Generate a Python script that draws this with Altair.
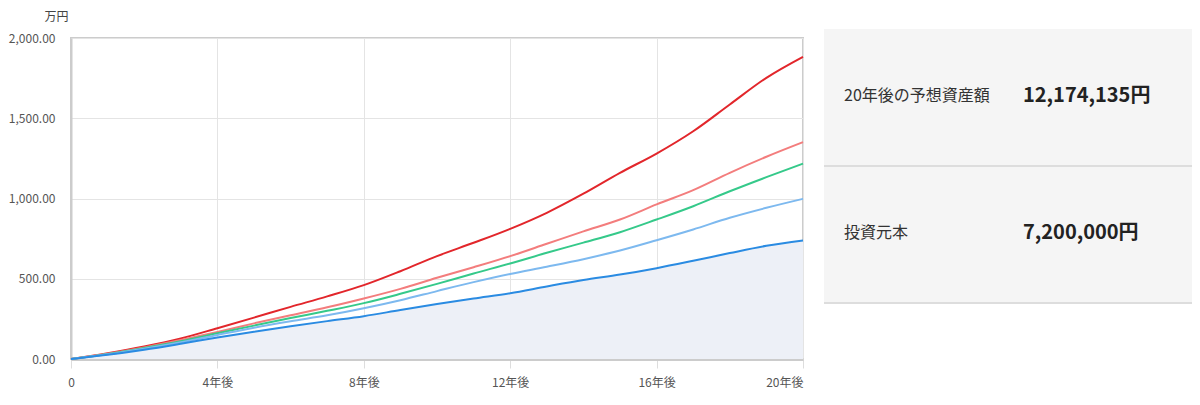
import altair as alt
import pandas as pd

# ---- data (万円) ----
years = list(range(21))
series_names = ["楽観", "やや楽観", "期待", "やや悲観", "悲観"]
series_colors = ["#e2262b", "#f37d7d", "#35c98a", "#7db9ef", "#2a8be2"]

red   = [0, 36, 78, 128, 192, 258, 325, 390, 460, 547, 641, 724, 811, 911, 1030, 1160, 1280, 1419, 1586, 1752, 1883]
lred  = [0, 33, 72, 118, 168, 222, 273, 322, 377, 437, 506, 572, 641, 718, 795, 869, 963, 1052, 1160, 1260, 1351]
green = [0, 31, 68, 110, 160, 208, 255, 300, 348, 406, 468, 533, 595, 662, 725, 790, 869, 952, 1045, 1133, 1217]
lblue = [0, 29, 64, 104, 150, 195, 235, 272, 316, 366, 423, 479, 530, 575, 622, 676, 740, 807, 880, 942, 998]
dblue = [0, 26, 58, 95, 134, 170, 204, 236, 267, 305, 342, 377, 410, 452, 492, 526, 566, 612, 660, 705, 738]

x_ticks = [0, 4, 8, 12, 16, 20]
y_ticks = [0, 500, 1000, 1500, 2000]

panel_labels = ["20年後の予想資産額", "投資元本"]
panel_amounts = [12174135, 7200000]

FONT = "Noto Sans CJK JP"

rows = []
for name, vals in zip(series_names, [red, lred, green, lblue, dblue]):
    for yr, v in zip(years, vals):
        rows.append({"year": yr, "value": v, "series": name})
df = pd.DataFrame(rows)
df_area = pd.DataFrame({"year": years, "value": dblue})

W, H = 732, 321

x_enc = alt.X(
    "year:Q",
    scale=alt.Scale(domain=[0, 20], nice=False),
    axis=alt.Axis(
        values=x_ticks,
        labelExpr="datum.value == 0 ? '0' : datum.value + '年後'",
        labelAlign={"expr": "datum.value == 20 ? 'right' : 'center'"},
        title=None,
        grid=True,
        gridColor="#e4e4e4",
        domainColor="#cccccc",
        domainWidth=3,
        tickColor="#dddddd",
        tickSize=9,
        labelPadding=9,
        labelFontSize=12,
        labelColor="#555555",
        labelFont=FONT,
    ),
)
y_enc = alt.Y(
    "value:Q",
    scale=alt.Scale(domain=[0, 2000], nice=False),
    axis=alt.Axis(
        values=y_ticks,
        format=",.2f",
        title="万円",
        titleAngle=0,
        titleAlign="right",
        titleBaseline="middle",
        titleX=-3,
        titleY=-22,
        titleFont=FONT,
        titleFontSize=12,
        titleFontWeight="normal",
        titleColor="#444444",
        grid=True,
        gridColor="#e4e4e4",
        domainColor="#cccccc",
        domainWidth=2,
        ticks=False,
        labelPadding=16,
        labelFontSize=12,
        labelColor="#555555",
        labelFont=FONT,
    ),
)

area = alt.Chart(df_area).mark_area(color="#edf0f7", opacity=1, interpolate="monotone").encode(x=x_enc, y=y_enc)

lines = alt.Chart(df).mark_line(strokeWidth=2, interpolate="monotone").encode(
    x="year:Q",
    y="value:Q",
    color=alt.Color("series:N", scale=alt.Scale(domain=series_names, range=series_colors), legend=None),
    order=alt.Order("series:N"),
)

one = pd.DataFrame({"a": [0]})
panel_bg = alt.Chart(one).mark_rect(color="#f5f5f5").encode(
    x=alt.value(753), x2=alt.value(1121), y=alt.value(-9), y2=alt.value(265)
)
divider = alt.Chart(one).mark_rule(color="#d4d4d4", strokeWidth=1.5).encode(
    x=alt.value(753), x2=alt.value(1121), y=alt.value(128)
)
bottom_line = alt.Chart(one).mark_rule(color="#dddddd", strokeWidth=2).encode(
    x=alt.value(753), x2=alt.value(1121), y=alt.value(265)
)

text_layers = []
row_y = [58, 195]
for i in range(2):
    lab = pd.DataFrame({"t": [panel_labels[i]]})
    val = pd.DataFrame({"t": [f"{panel_amounts[i]:,}円"]})
    text_layers.append(
        alt.Chart(lab).mark_text(font=FONT, fontSize=16, color="#333333", align="left", baseline="middle").encode(
            text="t:N", x=alt.value(773), y=alt.value(row_y[i])
        )
    )
    text_layers.append(
        alt.Chart(val).mark_text(font=FONT, fontSize=20, fontWeight="bold", color="#222222", align="left", baseline="middle").encode(
            text="t:N", x=alt.value(952), y=alt.value(row_y[i])
        )
    )

chart = alt.layer(area, lines, panel_bg, divider, bottom_line, *text_layers).properties(
    width=W,
    height=H,
    padding={"left": 63, "top": 30, "right": 389, "bottom": 33},
    autosize=alt.AutoSizeParams(type="none"),
    background="white",
).configure_view(stroke="#cccccc", strokeWidth=2)

chart.save("out.html", embed_options={"renderer": "svg", "actions": False})
